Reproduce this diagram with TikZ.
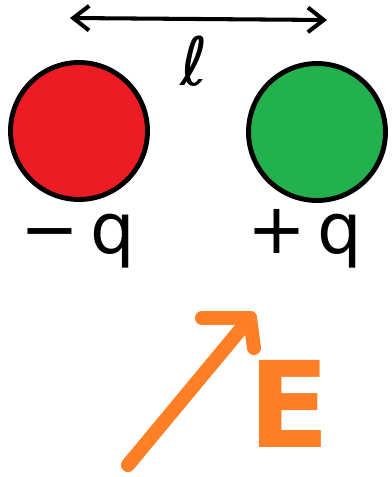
\documentclass[tikz,border=0pt]{standalone}
\usepackage{fontspec}
\setmainfont{DejaVu Sans}
\usetikzlibrary{arrows.meta}
\definecolor{pred}{HTML}{ED1C24}
\definecolor{pgreen}{HTML}{22B14C}
\definecolor{porange}{HTML}{FF7F27}
\begin{document}
\begin{tikzpicture}[x=0.02cm,y=-0.02cm,
  ball/.style={circle,draw=black,line width=2.8pt,minimum size=2.74cm,inner sep=0pt},
  charge/.style={font=\fontsize{40}{40}\selectfont,anchor=base,inner sep=0pt},
  dist/.style={line width=2.3pt,line cap=round,{Straight Barb[length=9pt,width=14pt,line width=2.3pt]}-{Straight Barb[length=9pt,width=14pt,line width=2.3pt]}},
  field/.style={draw=porange,line width=8pt,line cap=round,line join=round}]
\useasboundingbox (0,0) rectangle (392,477);
% separation arrow
\coordinate (lA) at (70,18);
\coordinate (lB) at (327,20);
\draw[dist] (lA) -- (lB);
\node[font=\fontsize{38}{38}\selectfont,inner sep=0pt] (ell) at (194,61) {ℓ};
% charges
\node[ball,fill=pred] (neg) at (79,131) {};
\node[ball,fill=pgreen] (pos) at (317,132) {};
\node[charge] (nq) at (78,253) {−\,q};
\node[charge] (pq) at (305,253) {+\,q};
% field arrow
\coordinate (oS) at (128,465);
\coordinate (oT) at (250,318);
\draw[field] (oS) -- (oT);
\draw[field] (oT) -- ++(-48,0);
\draw[field] (oT) -- ++(4,30);
\node[text=porange,font=\fontsize{68}{68}\selectfont\bfseries,anchor=base west,inner sep=0pt] (E) at (248,447) {E};
\end{tikzpicture}
\end{document}
